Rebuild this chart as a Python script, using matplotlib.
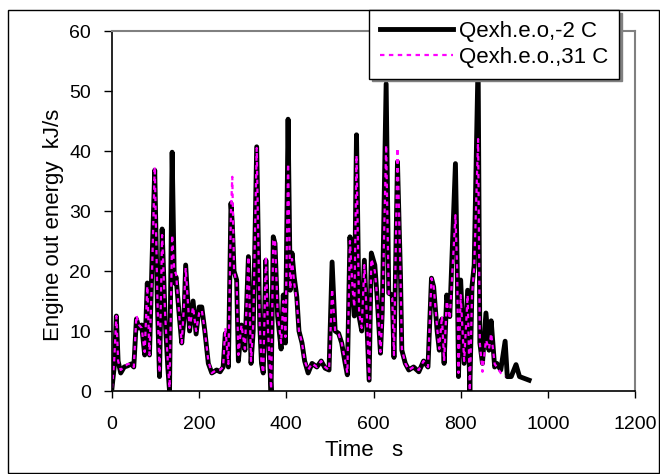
import matplotlib.pyplot as plt
from matplotlib.patches import Rectangle

plt.rcParams['font.family'] = ['Liberation Sans', 'DejaVu Sans']

# time axis shared by both runs (s)
time_s = [0, 5, 10, 14, 20, 28, 36, 44, 50, 56, 62, 68, 75, 81, 86, 92, 98, 104, 109,
          115, 122, 128, 132, 138, 143, 147, 155, 160, 165, 169, 178, 186, 193, 200,
          206, 213, 221, 229, 240, 248, 255, 260, 267, 273, 276, 280, 286, 290, 297,
          305, 313, 319, 324, 332, 339, 343, 347, 353, 358, 365, 370, 374, 380, 388,
          393, 398, 404, 409, 413, 418, 424, 429, 436, 442, 450, 459, 470, 480, 489,
          498, 505, 512, 520, 527, 535, 540, 546, 552, 556, 561, 567, 573, 579, 585,
          590, 595, 603, 608, 616, 620, 629, 635, 643, 647, 655, 662, 665, 673, 681,
          692, 704, 715, 725, 733, 738, 746, 751, 757, 762, 768, 775, 788, 792, 795,
          800, 808, 816, 821, 826, 831, 840, 844, 850, 858, 865, 870, 878, 883, 892,
          902, 907, 916, 927, 935, 946, 957]

# exhaust energy at engine out, -2 C start (kJ/s)
q_cold = [0.5, 4, 12.5, 5, 3, 4, 4.2, 4.5, 4, 12, 10.5, 11, 6, 18, 6, 22, 36.8, 15, 2.4,
          27, 12, 4, 0, 39.8, 18, 19, 12, 8, 12, 21, 10, 15, 9.5, 14,
          14, 10, 4.6, 3, 3.5, 3.2, 4, 9.6, 4, 31.3, 28, 20, 18.5, 5, 11,
          6.8, 22.4, 4.6, 10, 40.7, 11, 4.6, 3, 21.8, 10, 0, 25.7, 24.6, 12.5, 7,
          16, 8, 45.3, 16.8, 23, 19, 15.7, 10, 8, 5, 3, 4.6, 4, 5, 3.8,
          3.5, 21.5, 10, 9.6, 8, 4.6, 2.7, 25.7, 16, 12.5, 42.7, 12.4, 10, 21.8, 11,
          1.8, 23, 21, 16, 6.3, 13, 51.2, 16.3, 16, 5.6, 38.2, 19, 6.8, 4.6, 3.5,
          4, 3.2, 5, 4, 18.8, 17.4, 10, 6.8, 12, 4.6, 16, 12.4, 37.9, 21, 2.4,
          18.5, 4.6, 16.8, 0, 17.4, 21, 55, 8, 4.6, 13, 6.8, 11.7, 4, 4.6, 3.5,
          8.3, 2.4, 2.4, 4.4, 2.4, 2.1, 1.8]

# exhaust energy at engine out, 31 C start (kJ/s), run ends earlier
q_hot = [0.5, 5, 12.5, 5, 3.5, 4, 4.5, 4.5, 4, 12.6, 11, 10.5, 6.5, 17.5, 6, 20, 37.4, 16, 3,
         26, 12.5, 5, 0.5, 26, 20, 19.5, 12, 8, 14, 20.5, 10.5, 14, 10, 13,
         13.5, 10, 5, 3, 3.5, 3.5, 4, 10.5, 4.5, 30, 35.7, 20, 18, 6, 11,
         7, 22.4, 5, 11, 40.5, 11, 4.6, 3, 22.4, 10, 0.3, 25, 25.3, 13, 8,
         15, 9, 37.9, 17, 22, 18, 15, 10, 8, 5, 3.5, 4.6, 4, 5, 4,
         3.5, 17, 10, 9.5, 8, 5, 3, 25, 17, 14, 39.3, 13, 10.5, 21, 12,
         2, 22, 20, 16, 6.5, 12, 41, 16, 15.5, 6, 40.5, 19, 7, 4.6, 3.5,
         4, 3.5, 5, 4, 18.8, 17.4, 10.5, 7, 12.5, 5, 15, 12, 29.3, 20, 3,
         16, 5, 16, 0, 16, 20.5, 42, 8, 3.2, 8.5, 7, 9.6, 4.5, 4, 3,
         2.4]

fig = plt.figure(figsize=(6.6, 4.74), dpi=100)
ax = fig.add_axes([112 / 660, 1 - 391 / 474, 523 / 660, 360 / 474])

ax.plot(time_s, q_cold, color='black', linewidth=3.5, solid_joinstyle='round',
        label='Qexh.e.o,-2 C')
ax.plot(time_s[:len(q_hot)], q_hot, color='#FF00FF', linewidth=1.6,
        linestyle=(0, (2, 2)), label='Qexh.e.o.,31 C')

ax.set_xlim(0, 1200)
ax.set_ylim(0, 60)
ax.set_xticks(range(0, 1201, 200))
ax.set_yticks(range(0, 61, 10))
ax.tick_params(direction='out', labelsize=14, width=1)
ax.tick_params(axis='y', length=6, pad=9)
ax.tick_params(axis='x', length=5, pad=13)
for side in ['top', 'right']:
    ax.spines[side].set_color('#808080')
    ax.spines[side].set_linewidth(1.5)
for side in ['left', 'bottom']:
    ax.spines[side].set_linewidth(1.2)

ax.set_xlabel('Time   s', fontsize=16)
ax.set_ylabel('Engine out energy  kJ/s', fontsize=16)
ax.xaxis.set_label_coords(0.482, -0.166)
ax.yaxis.set_label_coords(-0.112, 0.461)
ax.xaxis.label.set_va('center')
ax.yaxis.label.set_va('center')

leg = fig.legend(loc='upper left', bbox_to_anchor=(369 / 660, 1 - 10 / 474),
                 fontsize=16, frameon=True, fancybox=False, handlelength=3.3,
                 handletextpad=0.25, labelspacing=0.2, borderpad=0.5,
                 borderaxespad=0, shadow={'color': '#808080', 'alpha': 1, 'ox': 2, 'oy': -2})
leg.get_frame().set_edgecolor('black')
leg.get_frame().set_linewidth(1)

fig.patches.append(Rectangle((8 / 660, 1 / 474), 651 / 660, 463 / 474,
                             transform=fig.transFigure, fill=False,
                             edgecolor='black', linewidth=1))

fig.savefig('out.png', dpi=100)
